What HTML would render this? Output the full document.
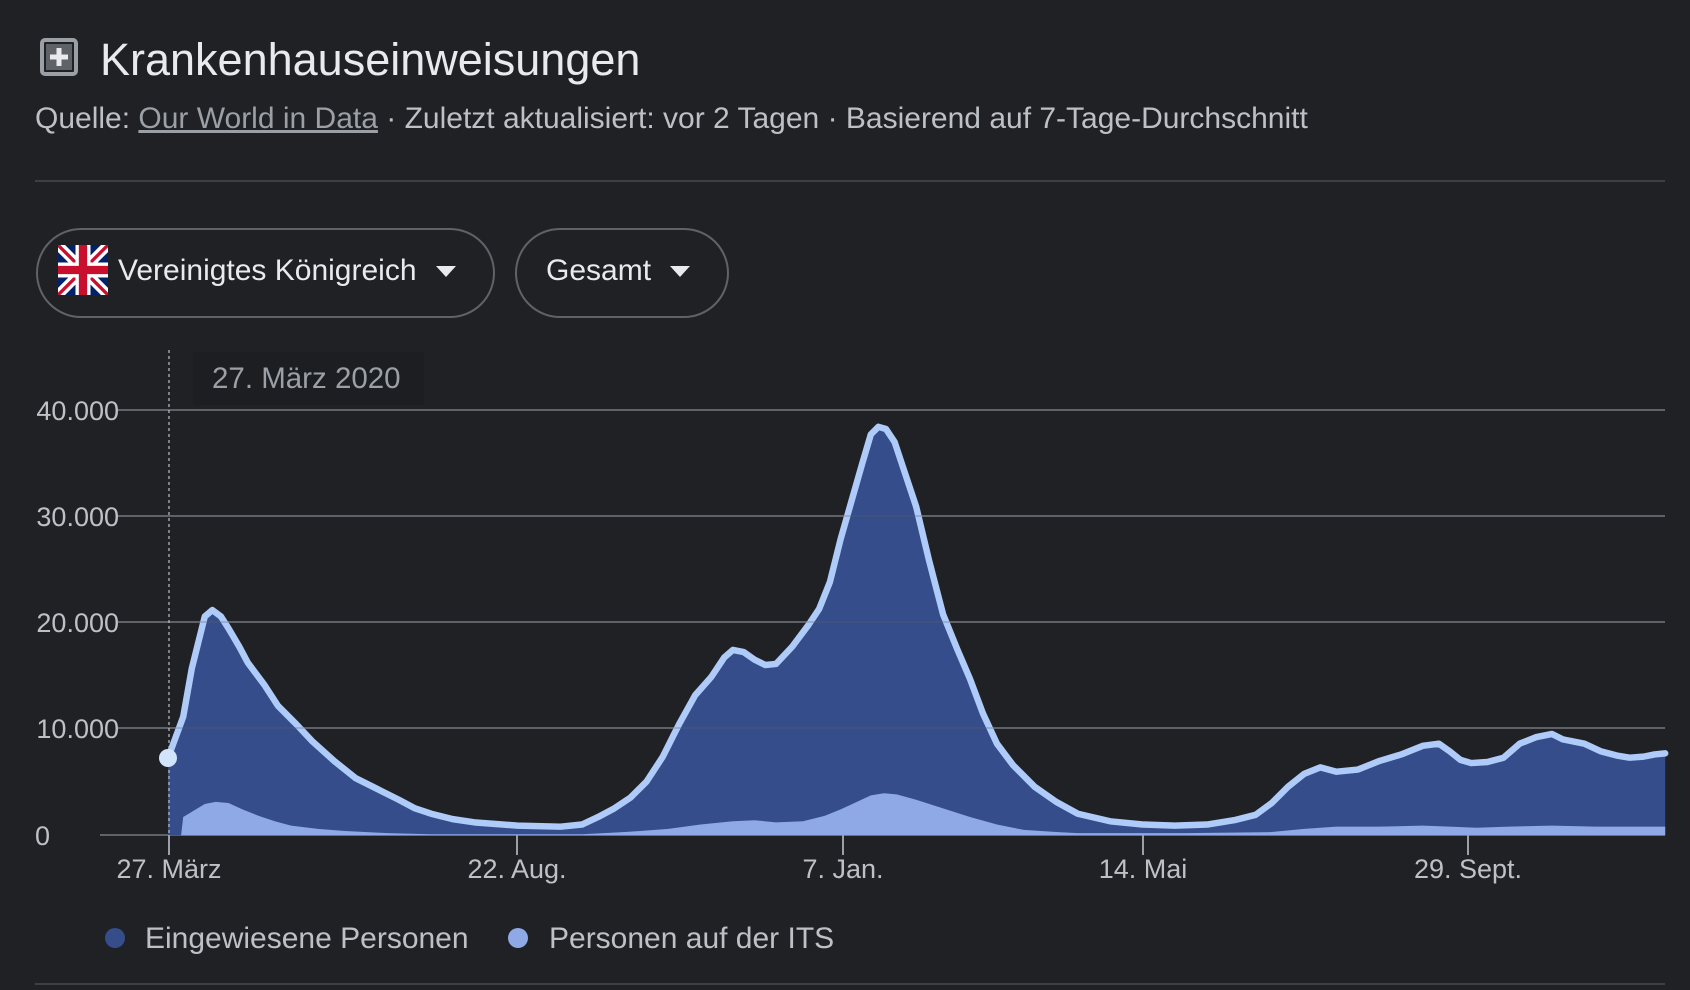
<!DOCTYPE html>
<html><head><meta charset="utf-8"><style>
body{margin:0;width:1690px;height:990px;background:#202124;overflow:hidden;font-family:"Liberation Sans",Arial,sans-serif;position:relative}
.a{position:absolute;white-space:nowrap}
</style></head><body>
<svg class="a" style="left:40px;top:38px" width="40" height="38" viewBox="0 0 40 38"><rect x="2" y="2" width="34" height="34" rx="3" fill="none" stroke="#9aa0a6" stroke-width="4"/><rect x="6" y="6" width="26" height="26" fill="#5f6368"/><rect x="16.5" y="10" width="5" height="18" fill="#e8eaed"/><rect x="10" y="16.5" width="18" height="5" fill="#e8eaed"/></svg>
<div class="a" style="left:100px;top:34px;font-size:45px;color:#e8eaed">Krankenhauseinweisungen</div>
<div class="a" style="left:35px;top:102px;font-size:30px;color:#bdc1c6">Quelle: <span style="color:#9aa0a6;text-decoration:underline">Our World in Data</span> · Zuletzt aktualisiert: vor 2 Tagen · Basierend auf 7-Tage-Durchschnitt</div>
<div class="a" style="left:35px;top:180px;width:1630px;height:2px;background:#3c4043"></div>
<div class="a" style="left:36px;top:228px;width:455px;height:86px;border:2px solid #5f6368;border-radius:45px"></div>
<div class="a" style="left:515px;top:228px;width:210px;height:86px;border:2px solid #5f6368;border-radius:45px"></div>
<svg class="a" style="left:58px;top:245px" width="50" height="50" viewBox="0 0 60 60"><rect width="60" height="60" fill="#012169"/><path d="M0 0L60 60M60 0L0 60" stroke="#fff" stroke-width="12"/><path d="M0 0L60 60M60 0L0 60" stroke="#c8102e" stroke-width="4"/><path d="M30 0V60M0 30H60" stroke="#fff" stroke-width="18"/><path d="M30 0V60M0 30H60" stroke="#c8102e" stroke-width="10"/></svg>
<div class="a" style="left:118px;top:254px;font-size:30px;color:#e8eaed">Vereinigtes Königreich</div>
<div class="a" style="left:436px;top:266px;width:0;height:0;border-left:10px solid transparent;border-right:10px solid transparent;border-top:11px solid #e8eaed"></div>
<div class="a" style="left:546px;top:254px;font-size:30px;color:#e8eaed">Gesamt</div>
<div class="a" style="left:670px;top:266px;width:0;height:0;border-left:10px solid transparent;border-right:10px solid transparent;border-top:11px solid #e8eaed"></div>
<svg class="a" style="left:0;top:0" width="1690" height="990">
<g stroke="#5f6368" stroke-width="2"><line x1="118" y1="410" x2="1665" y2="410"/><line x1="118" y1="516" x2="1665" y2="516"/><line x1="118" y1="622" x2="1665" y2="622"/><line x1="118" y1="728" x2="1665" y2="728"/><line x1="100" y1="835" x2="1665" y2="835"/></g>
<g transform="scale(1.0778)">
<path d="M156,775 L156,703 L170,665 L178,620 L183,600 L190,572 L197,566 L205,572 L212,583 L222,600 L230,615 L245,635 L258,655 L275,672 L290,688 L310,706 L330,722 L350,732 L370,742 L385,750 L400,755 L420,760 L440,763 L480,766 L520,767 L540,765 L555,758 L570,750 L585,740 L600,725 L615,702 L630,672 L645,645 L660,628 L672,610 L680,603 L690,605 L700,612 L710,617 L720,616 L735,600 L750,580 L760,565 L770,540 L780,500 L790,465 L800,430 L808,403 L815,396 L822,398 L830,410 L840,440 L850,470 L862,520 L875,570 L888,602 L900,630 L912,662 L925,690 L940,710 L960,730 L980,744 L1000,755 L1030,762 L1060,765 L1090,766 L1120,765 L1145,761 L1165,756 L1180,745 L1195,730 L1210,718 L1225,712 L1240,716 L1260,714 L1280,706 L1300,700 L1320,692 L1335,690 L1345,697 L1355,705 L1365,708 L1380,707 L1395,703 L1410,690 L1425,684 L1440,681 L1450,686 L1470,690 L1485,697 L1500,701 L1512,703 L1525,702 L1535,700 L1545,699 L1545,775 Z" fill="#354d8a"/>
<path d="M168,775 L170,758 L180,752 L190,746 L200,744 L212,745 L225,751 L240,757 L255,762 L270,766 L295,769 L320,771 L360,773 L400,774 L540,774 L580,772 L620,769 L650,765 L680,762 L700,761 L720,763 L745,762 L765,757 L780,751 L795,744 L808,738 L820,736 L832,737 L850,742 L875,750 L900,758 L925,765 L950,770 L980,772 L1000,773 L1100,773 L1180,772 L1210,769 L1240,767 L1280,767 L1320,766 L1345,767 L1370,768 L1400,767 L1440,766 L1480,767 L1545,767 L1545,775 Z" fill="#8fa8e6"/>
<path d="M156,703 L170,665 L178,620 L183,600 L190,572 L197,566 L205,572 L212,583 L222,600 L230,615 L245,635 L258,655 L275,672 L290,688 L310,706 L330,722 L350,732 L370,742 L385,750 L400,755 L420,760 L440,763 L480,766 L520,767 L540,765 L555,758 L570,750 L585,740 L600,725 L615,702 L630,672 L645,645 L660,628 L672,610 L680,603 L690,605 L700,612 L710,617 L720,616 L735,600 L750,580 L760,565 L770,540 L780,500 L790,465 L800,430 L808,403 L815,396 L822,398 L830,410 L840,440 L850,470 L862,520 L875,570 L888,602 L900,630 L912,662 L925,690 L940,710 L960,730 L980,744 L1000,755 L1030,762 L1060,765 L1090,766 L1120,765 L1145,761 L1165,756 L1180,745 L1195,730 L1210,718 L1225,712 L1240,716 L1260,714 L1280,706 L1300,700 L1320,692 L1335,690 L1345,697 L1355,705 L1365,708 L1380,707 L1395,703 L1410,690 L1425,684 L1440,681 L1450,686 L1470,690 L1485,697 L1500,701 L1512,703 L1525,702 L1535,700 L1545,699" fill="none" stroke="#aecbfa" stroke-width="6" stroke-linejoin="round" stroke-linecap="round"/>
</g>
<g stroke="#5f6368" stroke-width="1.5" opacity="0.35"><line x1="170" y1="516" x2="1665" y2="516"/><line x1="170" y1="622" x2="1665" y2="622"/><line x1="170" y1="728" x2="1665" y2="728"/></g>
<line x1="169" y1="350" x2="169" y2="835" stroke="#bdc1c6" stroke-width="1.2" stroke-dasharray="3,3"/>
<circle cx="168" cy="758" r="9" fill="#d2e3fc"/>
<g stroke="#9aa0a6" stroke-width="2"><line x1="169" y1="835" x2="169" y2="855"/><line x1="517" y1="835" x2="517" y2="855"/><line x1="843" y1="835" x2="843" y2="855"/><line x1="1143" y1="835" x2="1143" y2="855"/><line x1="1468" y1="835" x2="1468" y2="855"/></g>
<g font-family="Liberation Sans,Arial,sans-serif" font-size="27" fill="#bdc1c6" text-anchor="end"><text x="119" y="420">40.000</text><text x="119" y="526">30.000</text><text x="119" y="632">20.000</text><text x="119" y="738">10.000</text><text x="50" y="845">0</text></g>
<g font-family="Liberation Sans,Arial,sans-serif" font-size="27" fill="#bdc1c6" text-anchor="middle"><text x="169" y="878">27. März</text><text x="517" y="878">22. Aug.</text><text x="843" y="878">7. Jan.</text><text x="1143" y="878">14. Mai</text><text x="1468" y="878">29. Sept.</text></g>
<rect x="193" y="352" width="231" height="53" fill="#1d1e21"/>
<text x="212" y="388" font-family="Liberation Sans,Arial,sans-serif" font-size="29.5" fill="#9aa0a6">27. März 2020</text>
<circle cx="115" cy="938" r="10" fill="#354d8a"/>
<circle cx="518" cy="938" r="10" fill="#8fa8e6"/>
<g font-family="Liberation Sans,Arial,sans-serif" font-size="30" fill="#bdc1c6"><text x="145" y="948">Eingewiesene Personen</text><text x="549" y="948">Personen auf der ITS</text></g>
<line x1="35" y1="984" x2="1665" y2="984" stroke="#3c4043" stroke-width="2"/>
</svg>
</body></html>
